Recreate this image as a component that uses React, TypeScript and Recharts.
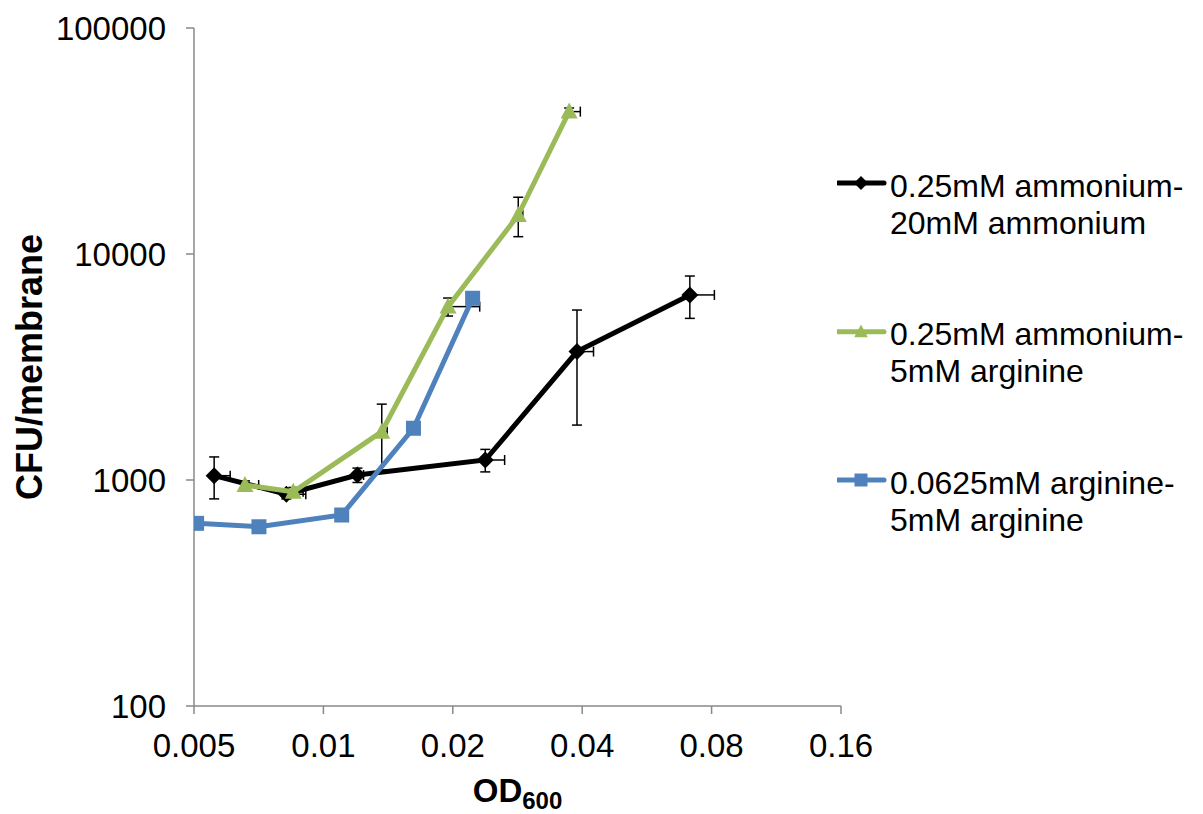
import React from 'react';
import { ScatterChart, Scatter, XAxis, YAxis, ErrorBar, Legend, Label } from 'recharts';

const FONT = '"Liberation Sans", Arial, sans-serif';

const xTicks = [0.005, 0.01, 0.02, 0.04, 0.08, 0.16];
const yTicks = [100, 1000, 10000, 100000];

const seriesNames = [
  ['0.25mM ammonium-', '20mM ammonium'],
  ['0.25mM ammonium-', '5mM arginine'],
  ['0.0625mM arginine-', '5mM arginine'],
];
const seriesColors = ['#000000', '#9BBB59', '#4F81BD'];

const blackX = [0.00557, 0.0082, 0.012, 0.0238, 0.0389, 0.0712];
const blackY = [1045, 865, 1052, 1226, 3700, 6590];
const blackXErr = [0.0005, 0.0009, 0.0004, 0.0026, 0.0036, 0.01];
const blackYErr = [220, 40, 77, 140, 1950, 1400];

const greenX = [0.00657, 0.00851, 0.01367, 0.0195, 0.0284, 0.0373];
const greenY = [951, 887, 1636, 5850, 14880, 42660];
const greenXErr = [0.0005, 0.00046, 0.0004, 0.0036, 0.0007, 0.0023];
const greenYErr = [40, 40, 530, 535, 2950, 1600];

const blueX = [0.00507, 0.00708, 0.01103, 0.0162, 0.02224];
const blueY = [643, 621, 700, 1694, 6370];

const blackData = blackX.map((x, i) => ({ x, y: blackY[i], ex: [0, blackXErr[i]], ey: blackYErr[i] }));
const greenData = greenX.map((x, i) => ({ x, y: greenY[i], ex: [0, greenXErr[i]], ey: greenYErr[i] }));
const blueData = blueX.map((x, i) => ({ x, y: blueY[i] }));

const Diamond = (p: any) => {
  const { cx, cy, fill, r = 8.5 } = p;
  return <path d={`M${cx},${cy - r}L${cx + r},${cy}L${cx},${cy + r}L${cx - r},${cy}Z`} fill={fill} />;
};
const Triangle = (p: any) => {
  const { cx, cy, fill, s = 1 } = p;
  return <path d={`M${cx},${cy - 9 * s}L${cx + 8.5 * s},${cy + 7 * s}L${cx - 8.5 * s},${cy + 7 * s}Z`} fill={fill} />;
};
const Square = (p: any) => {
  const { cx, cy, fill, h = 7.5 } = p;
  return <rect x={cx - h} y={cy - h} width={2 * h} height={2 * h} fill={fill} />;
};

const XLabel = (props: any) => {
  const vb = props.viewBox;
  const cx = vb.x + vb.width / 2;
  return (
    <text x={cx} y={vb.y + 96} textAnchor="middle" fontFamily={FONT} fontWeight="bold" fill="#000">
      <tspan fontSize={33}>OD</tspan>
      <tspan fontSize={24} dy={7}>600</tspan>
    </text>
  );
};

const YLabel = (props: any) => {
  const vb = props.viewBox;
  const cy = vb.y + vb.height / 2;
  const x = 34;
  return (
    <text x={x} y={cy} transform={`rotate(-90, ${x}, ${cy})`} textAnchor="middle" fontFamily={FONT} fontWeight="bold" fontSize={36} fill="#000">
      CFU/membrane
    </text>
  );
};

const LegendContent = () => {
  const icons = [175, 323.7, 472];
  return (
    <svg width={366} height={806} style={{ display: 'block' }}>
      {icons.map((iy, i) => (
        <g key={i}>
          <line x1={1} x2={47} y1={iy} y2={iy} stroke={seriesColors[i]} strokeWidth={5} strokeLinecap="round" />
          {i === 0 && <Diamond cx={24} cy={iy} r={7} fill={seriesColors[i]} />}
          {i === 1 && <Triangle cx={24} cy={iy} s={0.8} fill={seriesColors[i]} />}
          {i === 2 && <Square cx={24} cy={iy} h={6.5} fill={seriesColors[i]} />}
          <text x={53} y={iy + 13.7} fontFamily={FONT} fontSize={32} fill="#000">{seriesNames[i][0]}</text>
          <text x={53} y={iy + 50.5} fontFamily={FONT} fontSize={32} fill="#000">{seriesNames[i][1]}</text>
        </g>
      ))}
    </svg>
  );
};

export default function App() {
  const axisColor = '#898989';
  return (
    <ScatterChart width={1195} height={806} margin={{ top: 20, right: 362, bottom: 0, left: 0 }}>
      <XAxis
        type="number"
        dataKey="x"
        scale="log"
        domain={[0.005, 0.16]}
        allowDataOverflow
        ticks={xTicks}
        interval={0}
        height={108}
        tickSize={8}
        tickMargin={20}
        axisLine={{ stroke: axisColor, strokeWidth: 1.5 }}
        tickLine={{ stroke: axisColor, strokeWidth: 1.5 }}
        tick={{ fill: '#000', fontSize: 33, fontFamily: FONT }}
      >
        <Label content={XLabel} />
      </XAxis>
      <YAxis
        type="number"
        dataKey="y"
        scale="log"
        domain={[100, 100000]}
        allowDataOverflow
        ticks={yTicks}
        interval={0}
        width={186}
        tickSize={8}
        tickMargin={20}
        axisLine={{ stroke: axisColor, strokeWidth: 1.5 }}
        tickLine={{ stroke: axisColor, strokeWidth: 1.5 }}
        tick={{ fill: '#000', fontSize: 33, fontFamily: FONT }}
      >
        <Label content={YLabel} />
      </YAxis>
      <Legend
        layout="vertical"
        align="center"
        verticalAlign="middle"
        wrapperStyle={{ left: 829, top: 0, width: 366, height: 806 }}
        content={() => <LegendContent />}
      />
      <Scatter name="black" data={blackData} fill={seriesColors[0]} line={{ stroke: seriesColors[0], strokeWidth: 5 }} shape={Diamond} isAnimationActive={false}>
        <ErrorBar dataKey="ex" direction="x" width={5} strokeWidth={1.5} stroke="#000" />
        <ErrorBar dataKey="ey" direction="y" width={5} strokeWidth={1.5} stroke="#000" />
      </Scatter>
      <Scatter name="green" data={greenData} fill={seriesColors[1]} line={{ stroke: seriesColors[1], strokeWidth: 5 }} shape={Triangle} isAnimationActive={false}>
        <ErrorBar dataKey="ex" direction="x" width={5} strokeWidth={1.5} stroke="#000" />
        <ErrorBar dataKey="ey" direction="y" width={5} strokeWidth={1.5} stroke="#000" />
      </Scatter>
      <Scatter name="blue" data={blueData} fill={seriesColors[2]} line={{ stroke: seriesColors[2], strokeWidth: 5 }} shape={Square} isAnimationActive={false} />
    </ScatterChart>
  );
}
